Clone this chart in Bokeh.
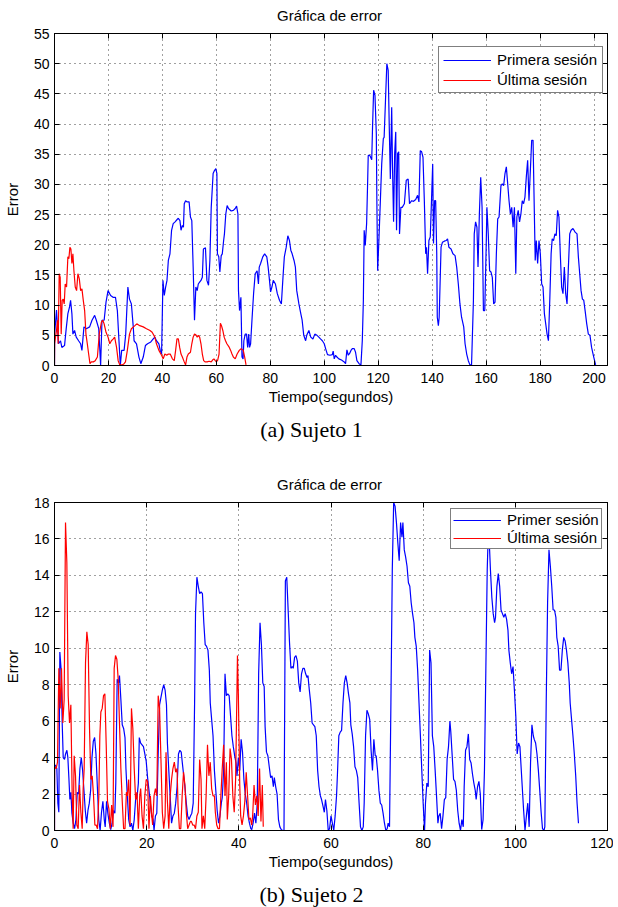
from bokeh.plotting import figure
from bokeh.models import Range1d, Legend, LegendItem, Div, FixedTicker, LinearAxis
from bokeh.layouts import column
from bokeh.embed import file_html
from bokeh.resources import INLINE

# ---------------- data: (a) Sujeto 1 ----------------
s1_first = [(0,0),(0.05,5.2),(0.74,9.2),(1.49,3.6),(2.23,4.1),(2.73,3.0),(3.72,3.3),(4.34,6.1),(4.96,8.6),(5.58,9.7),(5.96,10.8),(6.45,8.6),(6.82,5.2),(7.44,5.8),(8.06,4.7),(8.93,4.1),(9.68,3.6),(10.17,2.5),(10.92,6.4),(11.79,6.1),(13.03,6.4),(13.9,7.5),(14.89,8.3),(15.5,7.5),(16.4,6.1),(17.1,0),(17.6,7.5),(18.4,7.5),(19.1,10.5),(19.85,12.4),(20.8,11.6),(21.7,11.3),(22.6,11.3),(23.3,9.1),(23.9,4.1),(24.4,0),(24.9,2.5),(25.8,2.5),(26.4,5.2),(27.2,13.0),(27.8,11.0),(28.5,10.2),(29.2,6.4),(29.5,4.1),(30.4,3.6),(31.3,1.4),(32.0,0.3),(32.9,1.4),(33.7,3.3),(34.5,3.6),(35.7,3.9),(36.6,4.4),(37.2,4.7),(37.8,4.1),(38.7,3.6),(39.2,2.5),(39.7,1.9),(40.2,14.1),(40.7,11.6),(41.2,13.0),(41.7,14.1),(42.2,17.4),(42.8,18.5),(43.4,22.4),(44.0,23.5),(44.7,23.8),(45.3,24.1),(45.9,24.4),(46.5,24.0),(46.9,22.4),(47.4,23.2),(47.8,22.9),(48.1,26.8),(48.6,27.3),(49.1,27.1),(49.9,27.1),(50.4,24.6),(50.9,24.0),(51.4,16.3),(51.9,7.5),(52.4,13.0),(52.9,12.4),(53.3,13.5),(53.8,13.8),(54.3,14.1),(54.8,14.6),(55.2,19.3),(55.96,19.5),(56.5,14.1),(57.1,13.3),(57.6,17.4),(58.1,26.2),(58.8,31.8),(59.3,32.3),(59.8,32.6),(60.2,31.8),(60.4,18.5),(60.9,18.0),(61.3,15.5),(61.8,18.2),(62.2,18.5),(62.7,20.7),(63.0,21.8),(63.5,25.1),(64.0,26.5),(64.5,26.0),(65.5,25.6),(66.3,25.7),(67.0,26.0),(67.5,26.4),(68.0,25.1),(68.2,12.4),(68.6,9.1),(69.1,11.3),(69.5,1.4),(69.9,1.1),(70.2,4.1),(70.7,5.2),(71.2,5.2),(71.6,3.0),(72.0,5.2),(72.3,3.0),(72.7,3.6),(73.2,7.5),(73.8,11.9),(74.4,15.2),(75.1,15.7),(75.6,13.5),(75.9,16.3),(76.4,16.9),(77.2,18.0),(77.9,18.5),(78.7,18.0),(79.2,16.3),(79.7,14.1),(80.1,12.2),(80.6,13.0),(81.1,14.1),(81.9,13.5),(82.6,11.9),(83.4,10.8),(84.1,10.2),(84.7,14.6),(85.2,18.0),(85.9,19.6),(86.5,21.5),(87.1,20.7),(87.6,19.1),(88.1,18.5),(88.8,17.4),(89.3,16.3),(89.8,12.4),(90.6,10.2),(91.3,8.6),(91.8,7.5),(92.4,5.0),(93.1,4.1),(93.5,5.0),(94.3,5.8),(95.0,4.7),(95.8,4.4),(96.5,5.2),(97.3,5.0),(98.0,4.7),(98.6,4.4),(99.3,4.1),(100.0,3.6),(100.5,2.8),(101.2,1.8),(102.1,1.7),(103.0,1.8),(103.3,2.4),(103.7,1.1),(104.2,1.7),(104.7,1.4),(105.4,1.1),(106.4,0.9),(107.4,0.6),(107.9,0.3),(108.4,2.6),(108.9,1.7),(109.4,2.0),(109.9,2.5),(110.4,2.8),(111.1,2.8),(111.6,2.2),(112.1,0.8),(112.9,0.3),(113.6,0.1),(114.1,4.1),(114.5,10.8),(114.8,22.4),(115.2,19.9),(115.7,23.5),(116.1,30.7),(116.3,34.8),(116.9,34.8),(117.6,34.1),(117.9,39.5),(118.3,45.6),(118.8,44.8),(119.3,38.4),(119.5,27.3),(119.8,15.7),(120.3,21.3),(120.8,27.3),(121.3,33.4),(121.9,37.6),(122.2,37.8),(122.7,43.9),(123.2,50.0),(123.7,48.9),(124.1,39.5),(124.5,30.9),(125.0,42.8),(125.3,32.9),(125.7,23.8),(126.1,35.1),(126.5,38.7),(126.8,22.4),(127.2,35.1),(127.6,35.4),(127.9,21.8),(128.4,26.2),(128.9,26.2),(129.7,26.8),(130.4,30.7),(131.1,30.9),(131.6,26.8),(132.4,27.3),(133.1,27.2),(133.9,27.5),(134.6,28.2),(135.1,27.1),(135.6,35.6),(136.1,35.4),(136.6,34.5),(137.1,27.3),(137.6,18.5),(137.9,19.6),(138.3,15.2),(138.8,20.7),(139.3,21.3),(139.8,27.9),(140.2,33.4),(140.5,20.2),(140.9,27.3),(141.3,27.3),(141.7,18.5),(141.9,8.0),(142.3,6.6),(142.6,8.0),(143.3,19.6),(143.8,20.4),(144.5,20.6),(145.2,20.7),(145.7,21.0),(146.2,19.6),(147.0,19.3),(147.7,18.5),(148.5,18.2),(149.1,16.3),(149.7,13.5),(150.3,10.2),(150.9,8.0),(151.7,6.4),(152.2,3.6),(152.8,1.9),(153.4,0.8),(154.0,0.1),(154.6,0.1),(155.3,10.8),(155.6,21.8),(156.1,23.8),(156.6,22.9),(157.0,16.3),(157.5,25.1),(158.0,31.2),(158.5,26.2),(159.0,9.1),(159.5,9.1),(160.0,19.1),(160.3,26.2),(160.8,21.8),(161.3,15.7),(161.8,15.5),(162.3,14.6),(162.8,10.2),(163.3,10.5),(163.8,18.5),(164.3,24.3),(164.8,24.6),(165.5,29.8),(166.0,30.1),(166.5,29.8),(167.0,31.8),(167.5,32.9),(168.0,30.1),(168.5,27.3),(169.0,25.1),(169.5,26.2),(170.0,22.9),(170.5,26.2),(171.0,15.2),(171.4,24.6),(171.9,25.7),(172.4,23.8),(172.9,25.1),(173.4,27.3),(173.9,26.8),(174.4,27.9),(174.9,31.2),(175.4,34.0),(175.9,27.3),(176.4,32.3),(176.9,37.3),(177.4,37.3),(177.8,27.3),(178.2,17.4),(178.6,20.7),(179.1,16.9),(179.6,20.7),(180.1,18.5),(180.6,13.5),(181.1,13.0),(181.6,8.6),(182.1,6.9),(182.6,5.2),(183.1,4.1),(183.6,10.8),(184.1,18.5),(184.5,21.0),(185.0,20.7),(185.5,21.8),(186.0,21.5),(186.5,25.7),(187.0,24.6),(187.5,18.5),(188.0,13.0),(188.5,11.9),(189.0,16.3),(189.5,11.9),(190.0,10.2),(190.5,16.3),(191.0,21.8),(191.5,22.4),(192.2,22.7),(193.0,22.1),(193.7,21.8),(194.2,18.0),(194.7,15.2),(195.2,12.4),(195.7,11.0),(196.2,10.8),(196.7,9.1),(197.3,6.9),(197.9,5.2),(198.5,5.0),(199.1,3.0),(199.9,1.4),(200.6,0.1)]

s1_last = [(0,0),(0.05,3.6),(0.37,4.7),(0.74,5.8),(1.12,7.5),(1.36,3.6),(1.74,15.2),(2.11,14.6),(2.48,5.2),(2.85,10.8),(3.23,11.0),(3.6,10.2),(3.97,13.5),(4.47,13.0),(4.96,18.0),(5.33,17.7),(5.71,19.6),(6.08,19.3),(6.45,16.9),(6.82,18.5),(7.2,15.7),(7.69,13.0),(8.19,12.4),(8.68,15.2),(9.18,14.4),(9.68,12.4),(10.17,12.7),(10.67,10.8),(11.17,9.1),(11.66,5.2),(12.16,3.6),(12.66,1.9),(13.15,0.3),(13.65,0.6),(14.4,0.6),(15.1,0.8),(15.9,1.4),(16.6,5.2),(17.4,7.2),(17.9,7.5),(18.4,6.9),(19.1,5.5),(19.85,4.7),(20.5,3.6),(21.1,4.1),(21.8,4.4),(22.3,4.7),(23.0,3.0),(23.6,0.8),(24.2,0.1),(25.1,0.1),(25.8,0.3),(26.3,0.6),(27.0,2.5),(27.8,5.2),(28.5,6.1),(29.8,6.6),(30.5,6.9),(31.6,6.6),(32.9,6.4),(34.1,6.1),(35.4,5.8),(36.2,5.5),(37.2,4.7),(37.8,3.6),(38.7,2.5),(39.7,1.7),(40.3,1.1),(40.9,1.9),(41.6,1.7),(42.2,1.9),(42.9,1.9),(43.7,1.1),(44.4,0.8),(44.9,2.5),(45.4,4.4),(45.9,4.4),(46.4,3.0),(46.9,1.9),(47.4,1.4),(48.1,0.6),(48.6,0.1),(49.1,1.4),(49.6,1.9),(50.4,2.2),(50.9,3.6),(51.4,4.7),(51.9,5.2),(52.4,5.1),(52.9,4.7),(53.3,5.0),(53.8,4.7),(54.3,3.6),(54.8,1.9),(55.3,0.8),(55.8,0.6),(56.6,0.6),(57.3,0.7),(58.1,0.6),(58.6,0.9),(59.1,1.1),(59.6,0.8),(60.0,0.6),(60.5,0.9),(61.0,1.9),(61.5,7.0),(61.9,6.6),(62.4,5.8),(62.9,4.7),(63.4,4.1),(63.9,3.6),(64.8,3.0),(65.3,2.5),(65.8,1.9),(66.3,1.4),(67.0,1.1),(67.7,1.9),(68.5,2.5),(69.2,2.8),(69.98,2.5),(70.5,1.4),(71.0,0.1)]

# ---------------- data: (b) Sujeto 2 ----------------
s2_first = [(0,0),(0.02,3.5),(0.22,3.6),(0.51,3.4),(0.73,1.5),(0.94,1.0),(1.16,9.8),(1.45,8.8),(1.67,5.9),(1.89,4.0),(2.18,3.9),(2.40,4.2),(2.69,4.4),(2.90,4.0),(3.12,2.9),(3.34,1.7),(3.56,2.1),(3.78,0.95),(4.07,0.4),(4.36,0.1),(4.65,0.6),(4.94,2.1),(5.23,2.0),(5.52,3.4),(5.81,4.0),(6.10,3.3),(6.39,2.2),(6.68,1.1),(6.97,0.4),(7.26,1.1),(7.55,1.5),(7.84,2.2),(8.13,4.0),(8.42,4.9),(8.71,5.1),(9.0,4.2),(9.3,2.4),(9.6,0.6),(9.9,0),(10.2,1.0),(10.5,1.6),(10.8,0.6),(11.0,0.2),(11.3,1.6),(11.6,0.9),(11.9,0.4),(12.2,0.05),(12.5,0.4),(12.8,1.1),(13.1,0.95),(13.3,2.6),(13.6,8.3),(13.9,8.1),(14.1,8.5),(14.4,7.2),(14.7,5.8),(15.0,5.6),(15.3,5.1),(15.5,3.4),(15.8,1.9),(16.1,0.6),(16.4,0.2),(16.7,0.4),(17.0,0),(17.3,0.6),(17.6,1.7),(17.9,1.8),(18.2,2.6),(18.4,5.1),(18.7,4.8),(19.0,4.7),(19.3,4.6),(19.6,4.2),(19.9,3.8),(20.2,2.9),(20.5,2.2),(20.8,1.5),(21.1,0.8),(21.4,0.6),(21.6,0),(21.9,0.8),(22.2,0.95),(22.5,4.2),(22.8,6.9),(23.1,7.3),(23.4,7.7),(23.7,8.0),(24.0,7.7),(24.3,6.9),(24.5,4.8),(24.8,3.3),(25.1,1.9),(25.4,0.4),(25.7,0.8),(26.0,0.95),(26.3,1.5),(26.6,2.4),(26.9,4.2),(27.2,4.4),(27.5,4.3),(27.7,3.8),(28.0,3.1),(28.3,2.4),(28.6,1.5),(28.9,0.8),(29.2,0.6),(29.5,0.8),(29.8,0.95),(30.1,1.5),(30.4,7.0),(30.6,11.9),(30.9,13.9),(31.2,13.4),(31.5,13.0),(31.8,13.1),(32.1,13.0),(32.4,11.4),(32.7,10.2),(33.0,10.1),(33.3,9.9),(33.6,8.8),(33.8,7.0),(34.1,6.1),(34.4,5.2),(34.7,3.3),(35.0,2.2),(35.3,1.1),(35.6,0.4),(35.9,0.8),(36.2,1.5),(36.4,1.8),(36.7,3.3),(37.0,8.6),(37.3,7.4),(37.6,7.5),(37.9,7.4),(38.2,6.3),(38.5,5.2),(38.8,4.6),(39.1,4.1),(39.4,3.7),(39.6,3.0),(39.9,4.0),(40.2,3.3),(40.5,5.0),(40.8,4.3),(41.1,2.8),(41.4,2.0),(41.7,1.5),(42.0,0.8),(42.3,0.4),(42.6,0.1),(42.8,0.05),(43.1,0.4),(43.4,0.95),(43.7,0.4),(44.0,1.5),(44.3,8.6),(44.6,11.4),(44.9,10.2),(45.2,8.1),(45.5,7.9),(45.7,5.7),(46.0,4.3),(46.3,4.1),(46.6,3.5),(46.9,2.9),(47.2,3.0),(47.5,2.4),(47.7,2.9),(48.0,2.4),(48.3,2.0),(48.6,0.6),(48.9,0.2),(49.2,0.05),(49.5,0),(49.8,0),(50.1,13.7),(50.4,13.9),(50.7,12.1),(51.0,10.3),(51.3,8.9),(51.6,9.0),(51.8,8.9),(52.1,9.5),(52.4,9.6),(52.7,9.3),(53.0,8.1),(53.3,7.6),(53.6,8.6),(53.9,8.9),(54.2,8.9),(54.5,8.6),(54.8,8.4),(55.0,8.5),(55.3,7.7),(55.6,7.0),(55.9,5.9),(56.2,5.8),(56.5,5.7),(56.8,5.2),(57.1,3.3),(57.4,2.4),(57.7,1.9),(57.95,1.7),(58.3,1.3),(58.55,1.0),(58.8,1.7),(59.1,1.1),(59.4,0),(59.7,0.1),(60.0,0.8),(60.3,0.4),(60.6,0),(60.9,0.8),(61.2,1.9),(61.4,3.1),(61.7,5.2),(62.0,5.4),(62.3,5.5),(62.6,7.0),(62.9,8.1),(63.2,8.5),(63.5,8.1),(63.8,7.5),(64.1,7.0),(64.3,5.8),(64.6,5.3),(64.9,4.6),(65.2,3.5),(65.5,3.3),(65.8,2.9),(66.1,1.5),(66.4,0.2),(66.7,0),(67.0,0.2),(67.2,1.5),(67.5,5.2),(67.8,6.6),(68.1,6.4),(68.4,6.1),(68.7,4.4),(69.0,3.3),(69.3,5.0),(69.6,4.1),(69.8,4.1),(70.1,3.3),(70.4,2.2),(70.7,1.5),(71.0,1.4),(71.3,0.95),(71.6,0.4),(71.9,0),(72.2,0.1),(72.4,0.4),(72.7,0.2),(73.0,7.0),(73.3,14.3),(73.6,18.0),(73.9,17.8),(74.2,16.9),(74.5,15.8),(74.8,14.8),(75.1,16.9),(75.4,16.1),(75.6,16.9),(75.9,15.4),(76.2,15.0),(76.5,14.5),(76.8,13.6),(77.1,13.4),(77.4,12.5),(77.7,11.9),(78.0,11.4),(78.2,10.6),(78.5,10.1),(78.8,8.8),(79.1,7.0),(79.4,5.2),(79.7,3.3),(80.0,1.5),(80.3,0),(80.5,1.5),(80.8,2.6),(81.1,2.4),(81.4,9.9),(81.7,9.2),(82.0,5.2),(82.3,4.6),(82.6,3.3),(82.9,1.9),(83.2,0.4),(83.4,0.8),(83.7,0.95),(84.0,0.1),(84.3,0.8),(84.6,1.7),(84.9,1.8),(85.2,3.9),(85.5,4.6),(85.8,6.0),(86.0,5.4),(86.3,4.1),(86.6,2.8),(86.9,2.7),(87.2,2.2),(87.5,1.1),(87.8,0.4),(88.1,0),(88.4,0.6),(88.7,0.2),(88.9,2.4),(89.2,4.4),(89.5,4.6),(89.8,5.3),(90.1,3.9),(90.4,3.7),(90.7,3.1),(91.0,2.6),(91.3,2.2),(91.5,1.7),(91.8,2.4),(92.1,2.7),(92.4,2.0),(92.7,0.05),(93.0,0.6),(93.3,3.3),(93.6,8.8),(93.9,14.3),(94.2,17.0),(94.3,16.1),(94.6,14.3),(94.9,12.8),(95.2,11.9),(95.5,11.4),(95.7,11.7),(96.0,13.4),(96.3,14.1),(96.6,13.4),(96.9,12.1),(97.2,11.9),(97.5,11.7),(97.8,11.9),(98.1,11.6),(98.4,11.0),(98.6,9.9),(98.9,9.2),(99.2,8.6),(99.5,9.0),(99.8,7.7),(100.1,6.3),(100.4,4.2),(100.7,4.8),(101.0,4.6),(101.2,3.7),(101.5,2.4),(101.8,1.1),(102.1,0),(102.4,0.8),(102.7,1.5),(103.0,0.2),(103.3,3.7),(103.6,5.8),(103.9,5.2),(104.1,5.0),(104.4,4.8),(104.7,4.2),(105.0,3.3),(105.3,2.2),(105.6,1.0),(105.9,0.1),(106.2,0),(106.4,0.2),(106.7,7.0),(107.0,12.5),(107.3,15.4),(107.6,14.5),(107.9,13.4),(108.2,12.1),(108.5,12.1),(108.8,11.7),(109.0,10.6),(109.3,10.1),(109.6,8.8),(109.9,8.8),(110.2,9.9),(110.5,10.6),(110.8,10.4),(111.1,9.9),(111.4,9.2),(111.7,8.1),(111.9,7.0),(112.2,6.1),(112.5,5.2),(112.8,4.2),(113.1,3.0),(113.4,1.5),(113.7,0.4)]

s2_last = [(0,0),(0.02,3.5),(0.36,3.4),(0.65,3.75),(0.94,8.9),(1.23,6.7),(1.52,8.9),(1.81,5.9),(2.10,7.2),(2.39,16.9),(2.68,14.7),(2.97,7.4),(3.26,5.9),(3.55,6.9),(3.84,1.9),(4.05,0.1),(4.27,4.1),(4.56,3.0),(4.85,0.3),(5.14,0.1),(5.43,2.5),(5.72,1.0),(6.01,0.1),(6.22,2.3),(6.44,3.4),(6.73,9.2),(7.02,10.9),(7.31,10.2),(7.60,5.6),(7.89,2.8),(8.18,3.0),(8.47,1.9),(8.76,0.3),(9.04,0.3),(9.33,0.1),(9.62,1.9),(9.84,5.2),(10.06,6.5),(10.35,6.7),(10.64,7.4),(10.93,7.5),(11.22,4.7),(11.5,1.6),(11.8,1.2),(12.1,0.1),(12.4,1.4),(12.7,0.2),(12.95,8.9),(13.24,9.6),(13.53,9.4),(13.82,8.3),(14.1,5.9),(14.4,3.4),(14.7,1.6),(15.0,0.1),(15.3,0.1),(15.6,2.1),(15.8,1.9),(16.1,2.8),(16.4,0.3),(16.7,6.7),(17.0,5.6),(17.3,3.4),(17.6,1.7),(17.9,2.1),(18.2,0.1),(18.5,1.9),(18.7,2.3),(19.0,0.8),(19.3,0.1),(19.6,1.9),(19.9,2.8),(20.2,2.7),(20.5,0.1),(20.8,1.9),(21.1,0.8),(21.3,0.3),(21.6,1.9),(21.9,2.3),(22.2,1.9),(22.5,7.4),(22.8,6.7),(23.1,3.9),(23.4,1.0),(23.7,0.1),(24.0,0.8),(24.2,4.3),(24.5,1.6),(24.8,0.1),(25.1,1.9),(25.4,2.8),(25.7,3.4),(26.0,3.75),(26.3,3.2),(26.6,3.4),(26.8,1.4),(27.1,0.1),(27.4,0.1),(27.7,1.9),(28.0,3.2),(28.3,2.5),(28.6,1.0),(28.9,0.1),(29.2,0.3),(29.5,0.5),(29.7,0.5),(30.0,0.3),(30.3,0.3),(30.6,0.1),(30.9,0.8),(31.2,1.0),(31.5,3.9),(31.8,2.8),(32.0,0.1),(32.3,0.8),(32.6,0.1),(32.9,1.9),(33.2,4.7),(33.5,3.0),(33.8,3.75),(34.1,2.3),(34.4,1.9),(34.7,1.9),(34.9,1.0),(35.2,0.3),(35.5,0.1),(35.8,0.1),(36.1,1.9),(36.4,3.4),(36.7,4.7),(37.0,1.9),(37.3,3.75),(37.5,0.6),(37.8,1.9),(38.1,4.5),(38.4,3.9),(38.7,1.9),(39.0,1.0),(39.3,2.8),(39.6,7.8),(39.7,9.6),(39.9,7.4),(40.2,2.5),(40.4,0.8),(40.7,0.3),(41.0,0.8),(41.3,1.6),(41.6,3.2),(41.9,1.9),(42.2,0.6),(42.5,0.7),(42.8,0.3),(43.0,0.8),(43.3,2.5),(43.6,1.4),(43.9,1.9),(44.2,0.8),(44.5,3.4),(44.8,0.5),(45.1,2.5),(45.3,0.2)]

x_ticks_1 = [0, 20, 40, 60, 80, 100, 120, 140, 160, 180, 200]
y_ticks_1 = [0, 5, 10, 15, 20, 25, 30, 35, 40, 45, 50, 55]
x_ticks_2 = [0, 20, 40, 60, 80, 100, 120]
y_ticks_2 = [0, 2, 4, 6, 8, 10, 12, 14, 16, 18]

title_text = "Gráfica de error"
x_label = "Tiempo(segundos)"
y_label = "Error"
labels_1 = ["Primera sesión", "Última sesión"]
labels_2 = ["Primer sesión", "Última sesión"]
captions = ["(a) Sujeto 1", "(b) Sujeto 2"]

SANS = "Liberation Sans"
SERIF = "Liberation Serif"
BLUE = "#0000ff"
RED = "#ff0000"


def make_fig(xmax, ymax, xt, yt, frame_h, first, last, labels, leg_loc, leg_pad, leg_spacing, leg_label_w):
    p = figure(frame_width=553, frame_height=frame_h,
               x_range=Range1d(0, xmax), y_range=Range1d(0, ymax),
               output_backend="svg", toolbar_location=None,
               min_border_left=45, min_border_right=6,
               min_border_top=13, min_border_bottom=45)
    p.outline_line_color = "black"
    p.outline_line_width = 1
    p.background_fill_color = "white"
    p.border_fill_color = "white"

    for ax, ticks in ((p.xaxis[0], xt), (p.yaxis[0], yt)):
        ax.ticker = FixedTicker(ticks=ticks)
        ax.major_tick_in = 5
        ax.major_tick_out = 0
        ax.minor_tick_line_color = None
        ax.axis_line_color = "black"
        ax.major_tick_line_color = "black"
        ax.major_label_text_font = SANS
        ax.major_label_text_font_size = "14px"
        ax.major_label_text_color = "black"
        ax.axis_label_text_font = SANS
        ax.axis_label_text_font_size = "15px"
        ax.axis_label_text_font_style = "normal"
        ax.axis_label_text_color = "black"
    p.xaxis.axis_label = x_label
    p.yaxis.axis_label = y_label
    p.xaxis.major_label_standoff = 7
    p.xaxis.axis_label_standoff = 2
    p.yaxis.major_label_standoff = 5
    p.yaxis.axis_label_standoff = 10

    # inward tick marks on the top and right edges (MATLAB box style), no labels
    for loc, ticks in (("above", xt), ("right", yt)):
        ax = LinearAxis(ticker=FixedTicker(ticks=ticks), major_tick_in=5, major_tick_out=0,
                        minor_tick_line_color=None, major_label_text_font_size="1px",
                        major_label_text_color=None,
                        major_label_standoff=0, axis_line_color="black",
                        major_tick_line_color="black")
        p.add_layout(ax, loc)

    for g in (p.xgrid[0], p.ygrid[0]):
        g.grid_line_color = "black"
        g.grid_line_alpha = 0.75
        g.grid_line_dash = "1 4"
        g.grid_line_width = 1

    rb = p.line([a for a, b in first], [b for a, b in first], line_color=BLUE, line_width=1.2)
    rr = p.line([a for a, b in last], [b for a, b in last], line_color=RED, line_width=1.2)

    leg = Legend(items=[LegendItem(label=labels[0], renderers=[rb]),
                        LegendItem(label=labels[1], renderers=[rr])],
                 location=leg_loc, orientation="vertical",
                 border_line_color="black", border_line_width=1,
                 background_fill_color="white", background_fill_alpha=1,
                 label_text_font=SANS, label_text_font_size="15px",
                 label_text_color="black",
                 glyph_width=48, glyph_height=16, label_height=16, label_width=leg_label_w,
                 label_standoff=6, padding=leg_pad, spacing=leg_spacing, margin=0)
    p.add_layout(leg)
    return p


p1 = make_fig(205, 55, x_ticks_1, y_ticks_1, 332, s1_first, s1_last, labels_1,
              (384, 272), 4, 3, 101)
p2 = make_fig(120, 18, x_ticks_2, y_ticks_2, 328, s2_first, s2_last, labels_2,
              (396, 281), 2, 1, 91)

title_style = ("font-family:'%s'; font-size:15px; color:black; text-align:center; "
               "width:602px; padding-left:57px; box-sizing:border-box; line-height:16px; "
               "padding-top:8px; white-space:nowrap;" % SANS)
cap_style = ("font-family:'%s'; font-size:22px; color:black; text-align:center; "
             "width:602px; padding-left:21px; box-sizing:border-box; line-height:22px; "
             "padding-top:9px;" % SERIF)

t1 = Div(text='<div style="%s">%s</div>' % (title_style, title_text), width=602, height=20, margin=0)
d1 = Div(text='<div style="%s">%s</div>' % (cap_style, captions[0]), width=602, height=59, margin=0)
t2 = Div(text='<div style="%s">%s</div>' % (title_style, title_text), width=602, height=20, margin=0)
d2 = Div(text='<div style="%s">%s</div>' % (cap_style, captions[1]), width=602, height=30, margin=0)

layout = column(t1, p1, d1, t2, p2, d2, spacing=0)
open("out.html", "w").write(file_html(layout, INLINE))
